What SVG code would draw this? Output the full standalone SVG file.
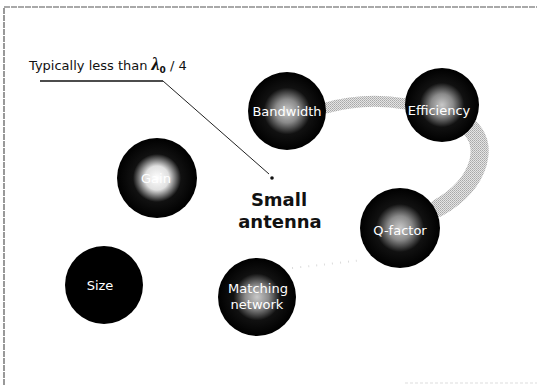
<svg xmlns="http://www.w3.org/2000/svg" width="537" height="385" viewBox="0 0 537 385">
<defs>
<radialGradient id="glowGray" cx="50%" cy="50%" r="50%">
<stop offset="0" stop-color="#c8c8c8"/>
<stop offset="0.3" stop-color="#8a8a8a"/>
<stop offset="0.6" stop-color="#111"/>
<stop offset="1" stop-color="#000"/>
</radialGradient>
<radialGradient id="glowWhite" cx="50%" cy="50%" r="50%">
<stop offset="0" stop-color="#fff"/>
<stop offset="0.3" stop-color="#e0e0e0"/>
<stop offset="0.6" stop-color="#111"/>
<stop offset="1" stop-color="#000"/>
</radialGradient>
<pattern id="dither" width="2" height="2" patternUnits="userSpaceOnUse">
<rect width="2" height="2" fill="#e4e4e4"/>
<rect width="1" height="1" fill="#a8a8a8"/>
<rect x="1" y="1" width="1" height="1" fill="#b8b8b8"/>
</pattern>
<style>
.frame{fill:none;stroke:#555;stroke-width:1.2;stroke-dasharray:6 1}
.ball{stroke:none}
.lbl{font-family:"DejaVu Sans",Verdana,sans-serif;font-size:13px;fill:#fff;text-anchor:middle}
.band{fill:none;stroke:url(#dither);stroke-linecap:round}
.center{font-family:"DejaVu Sans",Verdana,sans-serif;font-size:18px;font-weight:bold;fill:#111;text-anchor:middle}
.note{font-family:"DejaVu Sans",Verdana,sans-serif;font-size:13px;fill:#111}
</style>
</defs>
<rect width="537" height="385" fill="#fff"/>
<path class="frame" d="M4,385 V7 H537"/>
<line x1="405" y1="383" x2="537" y2="383" stroke="#ddd" stroke-width="1" stroke-dasharray="3 2"/>

<g id="connectors">
<path class="band" stroke-width="11" d="M326,108 Q365,97 406,104"/>
<path class="band" stroke-width="18" d="M468,126 Q484,140 478,163 Q470,190 438,208"/>
<path fill="none" stroke="#dcdcdc" stroke-width="2" stroke-dasharray="1 7" d="M292,268 Q330,264 362,260"/>
<polyline points="40,81 163,81" fill="none" stroke="#111" stroke-width="1.6"/>
<line x1="163" y1="81" x2="269" y2="174" stroke="#222" stroke-width="1"/>
<circle cx="272" cy="178" r="1.8" fill="#111"/>
</g>

<g id="note">
<text class="note" x="29" y="70">Typically less than <tspan font-family="'Liberation Serif',serif" font-style="italic" font-weight="bold" font-size="18">λ</tspan><tspan font-weight="bold" font-size="9" dy="3">0</tspan><tspan dy="-3"> / 4</tspan></text>
</g>

<g id="bandwidth">
<circle class="ball" cx="287" cy="111" r="39" fill="url(#glowGray)"/>
<text class="lbl" x="287" y="116">Bandwidth</text>
</g>
<g id="efficiency">
<circle class="ball" cx="442" cy="105" r="37" fill="url(#glowGray)"/>
<text class="lbl" x="439" y="115">Efficiency</text>
</g>
<g id="gain">
<circle class="ball" cx="157" cy="178" r="40" fill="url(#glowWhite)"/>
<text class="lbl" x="156" y="183">Gain</text>
</g>
<g id="size">
<circle class="ball" cx="104" cy="285" r="39" fill="#000"/>
<text class="lbl" x="100" y="290">Size</text>
</g>
<g id="matching">
<circle class="ball" cx="257" cy="297" r="39" fill="url(#glowGray)"/>
<text class="lbl" x="258" y="293">Matching</text>
<text class="lbl" x="257" y="309">network</text>
</g>
<g id="qfactor">
<circle class="ball" cx="400" cy="228" r="40" fill="url(#glowGray)"/>
<text class="lbl" x="400" y="235">Q-factor</text>
</g>
<g id="small-antenna">
<text class="center" x="279" y="206">Small</text>
<text class="center" x="280" y="228">antenna</text>
</g>
</svg>
